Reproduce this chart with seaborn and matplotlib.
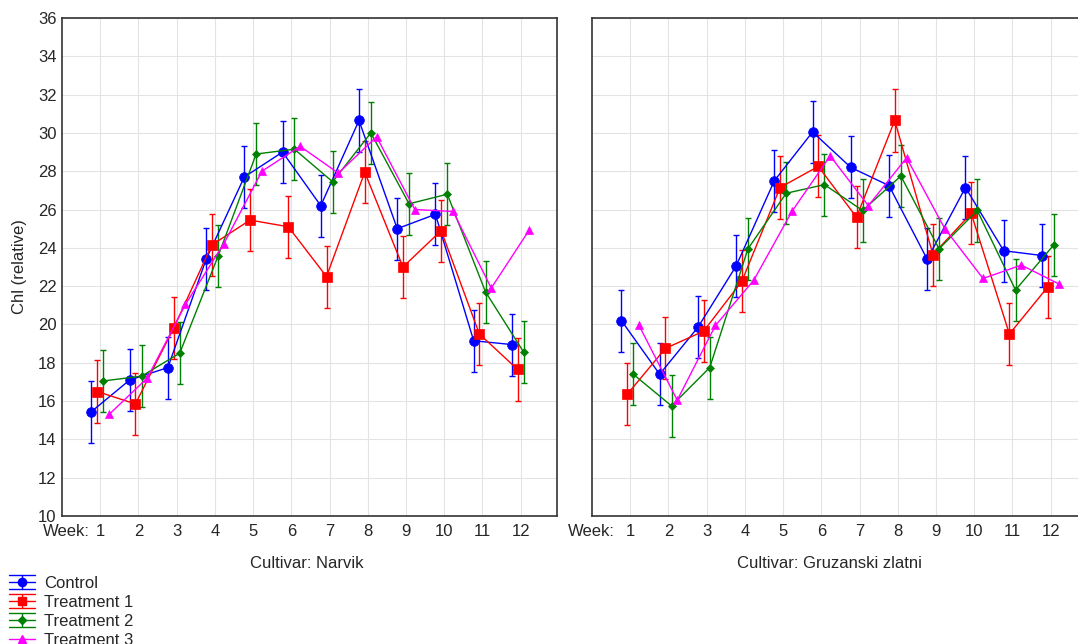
import numpy as np
import pandas as pd
import matplotlib
matplotlib.use("Agg")
import matplotlib.pyplot as plt
import seaborn as sns
from matplotlib.lines import Line2D
from matplotlib.legend_handler import HandlerBase

weeks = list(range(1, 13))
treatments = ["Control", "Treatment 1", "Treatment 2", "Treatment 3"]

narvik_control = [15.45, 17.1, 17.75, 23.4, 27.7, 29.0, 26.2, 30.65, 25.0, 25.75, 19.15, 18.95]
narvik_t1 = [16.5, 15.85, 19.8, 24.15, 25.45, 25.1, 22.5, 27.95, 23.0, 24.9, 19.5, 17.65]
narvik_t2 = [17.05, 17.3, 18.5, 23.55, 28.9, 29.15, 27.45, 30.0, 26.3, 26.8, 21.7, 18.55]
narvik_t3 = [15.3, 17.2, 21.05, 24.2, 28.0, 29.3, 27.9, 29.8, 26.0, 25.9, 21.9, 24.95]

gruz_control = [20.2, 17.4, 19.85, 23.05, 27.5, 30.05, 28.2, 27.25, 23.4, 27.15, 23.85, 23.6]
gruz_t1 = [16.35, 18.75, 19.65, 22.25, 27.15, 28.25, 25.6, 30.65, 23.65, 25.8, 19.5, 21.95]
gruz_t2 = [17.4, 15.75, 17.75, 23.95, 26.85, 27.3, 25.95, 27.75, 23.95, 25.95, 21.8, 24.15]
gruz_t3 = [19.95, 16.05, 19.95, 22.3, 25.9, 28.8, 26.2, 28.7, 25.0, 22.4, 23.1, 22.1]

# half-width of the error bars (Treatment 3 drawn without bars)
err_half = {"Control": 1.62, "Treatment 1": 1.62, "Treatment 2": 1.62, "Treatment 3": None}

panels = {
    "Cultivar: Narvik": [narvik_control, narvik_t1, narvik_t2, narvik_t3],
    "Cultivar: Gruzanski zlatni": [gruz_control, gruz_t1, gruz_t2, gruz_t3],
}

colors = {"Control": "#0000ff", "Treatment 1": "#ff0000", "Treatment 2": "#008000", "Treatment 3": "#ff00ff"}
markers = {"Control": "o", "Treatment 1": "s", "Treatment 2": "D", "Treatment 3": "^"}
msizes = {"Control": 7.0, "Treatment 1": 7.0, "Treatment 2": 4.5, "Treatment 3": 6.0}
offsets = {"Control": -0.23, "Treatment 1": -0.08, "Treatment 2": 0.08, "Treatment 3": 0.23}


class HandlerBarLine(HandlerBase):
    """Legend key: line with marker, caps drawn as full-width lines above and below."""
    def __init__(self, bars=True, **kw):
        super().__init__(**kw)
        self.bars = bars

    def create_artists(self, legend, orig, xdescent, ydescent, width, height, fontsize, trans):
        x0, x1 = -xdescent, -xdescent + width
        ym = height / 2 - ydescent
        xm = (x0 + x1) / 2
        c = orig.get_color()
        arts = [Line2D([x0, x1], [ym, ym], color=c, lw=1.0)]
        if self.bars:
            d = 5.0
            arts += [Line2D([x0, x1], [ym + d, ym + d], color=c, lw=1.0),
                     Line2D([x0, x1], [ym - d, ym - d], color=c, lw=1.0),
                     Line2D([xm, xm], [ym - d, ym + d], color=c, lw=1.0)]
        arts.append(Line2D([xm], [ym], marker=orig.get_marker(), markersize=orig.get_markersize(),
                           color=c, markeredgecolor=c, linestyle="none"))
        for a in arts:
            a.set_transform(trans)
        return arts


sns.set_style("white")
plt.rcParams['font.family'] = ['Liberation Sans', 'DejaVu Sans']
plt.rcParams['font.size'] = 12

W, H = 1078, 644
fig = plt.figure(figsize=(W / 100, H / 100), dpi=100)


def px_axes(l, t, r, b):
    return fig.add_axes([l / W, 1 - b / H, (r - l) / W, (b - t) / H])


ax1 = px_axes(62, 18, 557, 516)
ax2 = px_axes(592, 18, 1087, 516)

for ax, (title, series) in zip([ax1, ax2], panels.items()):
    rows = []
    for trt, vals in zip(treatments, series):
        for w, v in zip(weeks, vals):
            rows.append({"week": w, "treatment": trt, "chl": v})
    df = pd.DataFrame(rows)
    df["xpos"] = df["week"] + df["treatment"].map(offsets)

    for trt in treatments:
        sub = df[df["treatment"] == trt]
        c = colors[trt]
        if err_half[trt] is not None:
            ax.errorbar(sub["xpos"], sub["chl"], yerr=err_half[trt], fmt="none",
                        ecolor=c, elinewidth=1.0, capsize=2.2, capthick=1.0, zorder=2)
        sns.lineplot(x=sub["xpos"].values, y=sub["chl"].values, color=c, marker=markers[trt],
                     markersize=msizes[trt], markeredgecolor=c, markeredgewidth=0.5,
                     linewidth=1.0, ax=ax, errorbar=None, zorder=3)

    ax.set_xlim(0, 12.95)
    ax.set_ylim(10, 36)
    ax.set_xticks(weeks)
    ax.set_yticks(range(10, 37, 2))
    ax.grid(True, color="#e3e3e3", linewidth=0.8)
    ax.set_axisbelow(True)
    ax.tick_params(direction="in", length=4, width=0.8, color="#333333", labelsize=12)
    ax.tick_params(axis="x", pad=6)
    ax.tick_params(axis="y", pad=4)
    for sp in ax.spines.values():
        sp.set_color("#333333")
        sp.set_linewidth(1.2)
    ax.set_xlabel(title, fontsize=12)

ax1.xaxis.set_label_coords(0.495, -0.08)
ax2.xaxis.set_label_coords(0.479, -0.08)
ax2.tick_params(axis="y", labelleft=False)

ax1.set_ylabel("Chl (relative)", fontsize=12)
ax1.yaxis.set_label_coords(-0.071, 0.5)

# "Week:" prefix to the left of the first tick label
ax1.annotate("Week:", xy=(0.056, 0), xycoords="axes fraction", xytext=(0, -16),
             textcoords="offset pixels", ha="right", va="center", fontsize=12)
ax2.annotate("Week:", xy=(0.047, 0), xycoords="axes fraction", xytext=(0, -16),
             textcoords="offset pixels", ha="right", va="center", fontsize=12)

proxies = [Line2D([], [], color=colors[t], marker=markers[t], markersize=msizes[t] * 0.85)
           for t in treatments]
hmap = {p: HandlerBarLine(bars=err_half[t] is not None) for p, t in zip(proxies, treatments)}
fig.legend(proxies, treatments,
           loc="upper left", bbox_to_anchor=(9 / W, 1 - 576 / H), frameon=False,
           fontsize=12, handlelength=1.55, handletextpad=0.55, labelspacing=0.24,
           borderpad=0, borderaxespad=0, handler_map=hmap)

fig.savefig("out.png", dpi=100)
